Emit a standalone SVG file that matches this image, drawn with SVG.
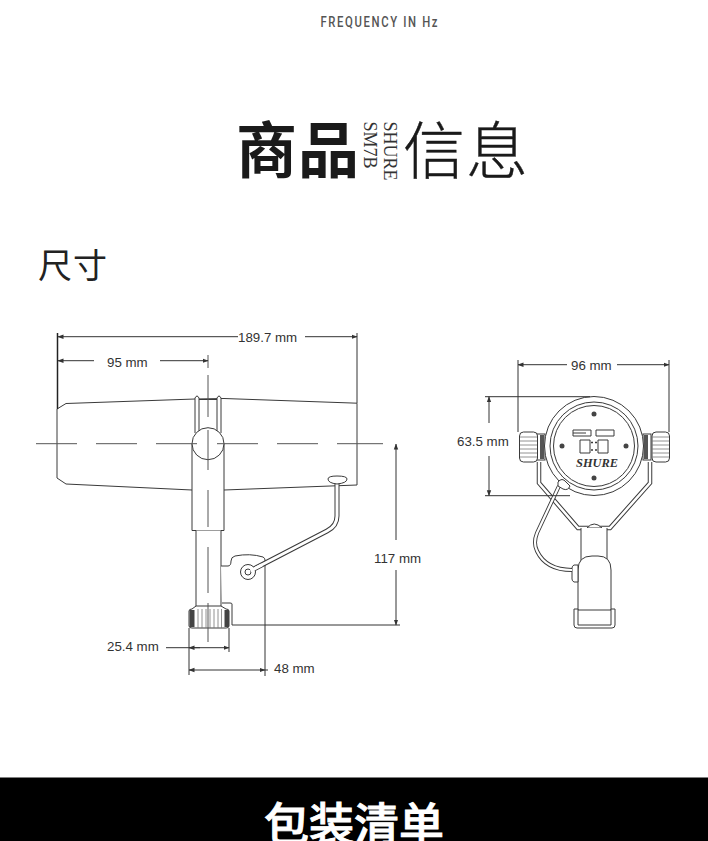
<svg xmlns="http://www.w3.org/2000/svg" width="708" height="841" viewBox="0 0 708 841">
<style>
.l{fill:none;stroke:#3a3a3a;stroke-width:1}
.w{fill:#fff;stroke:#3a3a3a;stroke-width:1}
.d{fill:none;stroke:#333;stroke-width:1}
.c{fill:none;stroke:#555;stroke-width:1}
.t{font-family:"Liberation Sans",Arial,sans-serif;font-size:13.300px;fill:#333}
.cjk{font-family:"Noto Sans CJK SC","Noto Sans",sans-serif}
.s{font-family:"Liberation Serif","Times New Roman",serif;font-size:18px;fill:#333}
.r{fill:none;stroke:#777;stroke-width:.8}
</style>
<defs>
<marker id="a" viewBox="0 0 6 6" refX="5.500" refY="3" markerWidth="6" markerHeight="6" orient="auto-start-reverse" markerUnits="userSpaceOnUse"><path d="M0 .8L6 3L0 5.200z" fill="#333"/></marker>
</defs>
<rect width="708" height="841" fill="#fff"/>
<g id="headings">
<text transform="translate(320.500,27) scale(.78,1)" font-family="Roboto,'Liberation Sans',sans-serif" font-size="14.500" font-weight="500" fill="#555" textLength="150" lengthAdjust="spacing">FREQUENCY IN Hz</text>
<text class="cjk" x="236" y="173" font-size="61" font-weight="700" fill="#1a1a1a" letter-spacing="1">商品</text>
<text class="cjk" x="403" y="173.500" font-size="62" font-weight="300" fill="#1a1a1a" letter-spacing="1" stroke="#1a1a1a" stroke-width=".4">信息</text>
<text class="s" transform="translate(384,121.500) rotate(90)">SHURE</text>
<text class="s" transform="translate(364,121.500) rotate(90)">SM7B</text>
<text class="cjk" x="38" y="278" font-size="34" fill="#222" letter-spacing="1">尺寸</text>
</g>
<g id="side-view">
<path class="w" d="M57 409L66 403.500L195 399L224 398.500L357 403.200V485L224 490L192 490L66 484L57 478Z"/>
<path class="w" d="M195 433V398Q197 394 199 398V433M217 433V398Q219 394 221 398V433"/>
<path class="l" d="M199 399.500H217"/>
<path class="w" d="M192 444V530.500H224V444"/>
<circle class="w" cx="208" cy="443.700" r="16"/>
<path class="w" d="M196 530.500V610H221V530.500"/>
<path class="w" d="M221 566H228Q231 566 231 561Q231 557 235 556Q250 553 263 557Q265 558 265 560V625H232V604Q232 603 230 603H222"/>
<g id="side-knob">
<path class="w" d="M189 611Q189 609 192 609L196 606H221L226 609Q229 609 229 611V626Q229 628 226 628H192Q189 628 189 626Z"/>
<rect x="189.500" y="610" width="5" height="17" fill="#444"/>
<rect x="224.500" y="610" width="4.500" height="17" fill="#444"/>
<path class="r" d="M198 609V628M202 609V628M206 609V628M210 609V628M214 609V628M218 609V628M221.500 609V628"/>
</g>
<path d="M337 480V516Q337 526 327 531L248 572" fill="none" stroke="#3a3a3a" stroke-width="5"/>
<path d="M337 480V516Q337 526 327 531L248 572" fill="none" stroke="#fff" stroke-width="3"/>
<circle class="w" cx="248" cy="572" r="7.500"/>
<circle cx="248" cy="572" r="3" fill="#fff" stroke="#3a3a3a"/>
<path d="M250.500 570.800L262 564.800" stroke="#fff" stroke-width="3"/>
<path class="w" d="M328 479Q328 476 337 476Q347 476 347 479Q347 483 337 484Q328 483 328 479Z"/>
</g>
<g id="front-view">
<path d="M539 462V483L578 528H610L650 483V462" fill="none" stroke="#3a3a3a" stroke-width="4.500"/>
<path d="M539 462V483L578 528H610L650 483V462" fill="none" stroke="#fff" stroke-width="2.500"/>
<path class="w" d="M587 528Q594 520 602 528Z"/>
<path class="w" d="M581 528V570H607V528"/>
<g id="front-knobs">
<rect class="w" x="537" y="434" width="8" height="26"/>
<rect class="w" x="643" y="434" width="8" height="26"/>
<rect x="540" y="435" width="4" height="24" fill="#555"/>
<rect x="644" y="435" width="4" height="24" fill="#555"/>
<rect class="w" x="519.500" y="432" width="18" height="30" rx="4"/>
<rect class="w" x="652" y="432" width="17.500" height="30" rx="4"/>
<path class="r" d="M520 437H537M520 441H537M520 445H537M520 449H537M520 453H537M520 457H537M652 437H669M652 441H669M652 445H669M652 449H669M652 453H669M652 457H669"/>
</g>
<g id="capsule">
<circle class="w" cx="594" cy="446" r="49.500"/>
<circle class="l" cx="594" cy="446" r="44"/>
<circle class="l" cx="594" cy="446" r="40.500"/>
<circle cx="594" cy="414" r="2.500" fill="#444"/>
<circle cx="594" cy="478" r="2.500" fill="#444"/>
<circle cx="562" cy="446" r="2.500" fill="#444"/>
<circle cx="626" cy="446" r="2.500" fill="#444"/>
<path class="l" d="M573 430H591V436H573ZM573 433H586M596 430H614V436H596Z"/>
<path class="l" d="M580 440H590V453H580ZM598 440H608V453H598Z"/>
<path d="M591 442.500H597M591 450H597" stroke="#3a3a3a" stroke-width="1.500" stroke-dasharray="2 2"/>
<text x="576" y="467" font-family="'Liberation Serif',serif" font-size="12" font-weight="bold" font-style="italic" fill="#333" textLength="42" lengthAdjust="spacingAndGlyphs">SHURE</text>
</g>
<g id="front-clamp">
<path class="w" d="M578 610V570Q578 556 592 556H598Q611 556 611 570V610Z"/>
<path class="w" d="M574 609H578V625H611V609H615V625Q615 628 612 628H577Q574 628 574 625Z"/>
<path class="w" d="M578 565H574Q572 566 572 568V579Q572 581 574 582H578Z"/>
</g>
<path d="M559 486L537 533Q533 543 537 551Q546 570 572 570" fill="none" stroke="#3a3a3a" stroke-width="4"/>
<path d="M559 486L537 533Q533 543 537 551Q546 570 572 570" fill="none" stroke="#fff" stroke-width="2.200"/>
<path class="w" d="M558 482Q562 477 566 482L570 486Q568 491 563 489L558 486Z"/>
</g>
<g id="connectors">
<path class="c" d="M36 443.700H77M96 443.700H137M156 443.700H197M217 443.700H258M277 443.700H318M337 443.700H383"/>
<path class="c" d="M208 355V368M208 375V417M208 430V470M208 490V527M208 547V593M208 603V642"/>
<path d="M57.500 333V409" stroke="#222" stroke-width="1.500"/>
<path class="d" d="M357 333V403"/>
<path class="d" marker-start="url(#a)" d="M58 336.700H238"/>
<path class="d" marker-end="url(#a)" d="M305 336.700H357"/>
<path class="d" marker-start="url(#a)" d="M58 360.700H94"/>
<path class="d" marker-end="url(#a)" d="M160 360.700H208"/>
<path class="d" d="M265 625H400"/>
<path class="d" marker-start="url(#a)" d="M396 444V540"/>
<path class="d" marker-end="url(#a)" d="M396 570V625"/>
<path class="d" d="M189 628V675M229 628V652M265 625V676"/>
<path class="d" marker-end="url(#a)" d="M166 647.700H229"/>
<path class="d" marker-start="url(#a)" d="M189 647.700H200"/>
<path class="d" marker-start="url(#a)" marker-end="url(#a)" d="M189 670H265"/>
<path class="d" d="M265 670H268"/>
<path class="d" d="M518 360V432M669 360V432"/>
<path class="d" marker-start="url(#a)" d="M518 364.700H567"/>
<path class="d" marker-end="url(#a)" d="M617 364.700H669"/>
<path class="d" d="M485 396.700H590M485 495.700H570"/>
<path class="d" marker-start="url(#a)" d="M489 396.700V423"/>
<path class="d" marker-end="url(#a)" d="M489 456V495.700"/>
</g>
<g id="labels">
<text class="t" x="238" y="342">189.7 mm</text>
<text class="t" x="107" y="367">95 mm</text>
<text class="t" x="374" y="563">117 mm</text>
<text class="t" x="107" y="651">25.4 mm</text>
<text class="t" x="274" y="673">48 mm</text>
<text class="t" x="571" y="370">96 mm</text>
<text class="t" x="457" y="446">63.5 mm</text>
</g>
<g id="footer">
<rect y="777.500" width="708" height="63.500" fill="#000"/>
<text class="cjk" x="264" y="841" font-size="45" font-weight="500" fill="#fff" stroke="#fff" stroke-width=".9">包装清单</text>
</g>
</svg>
